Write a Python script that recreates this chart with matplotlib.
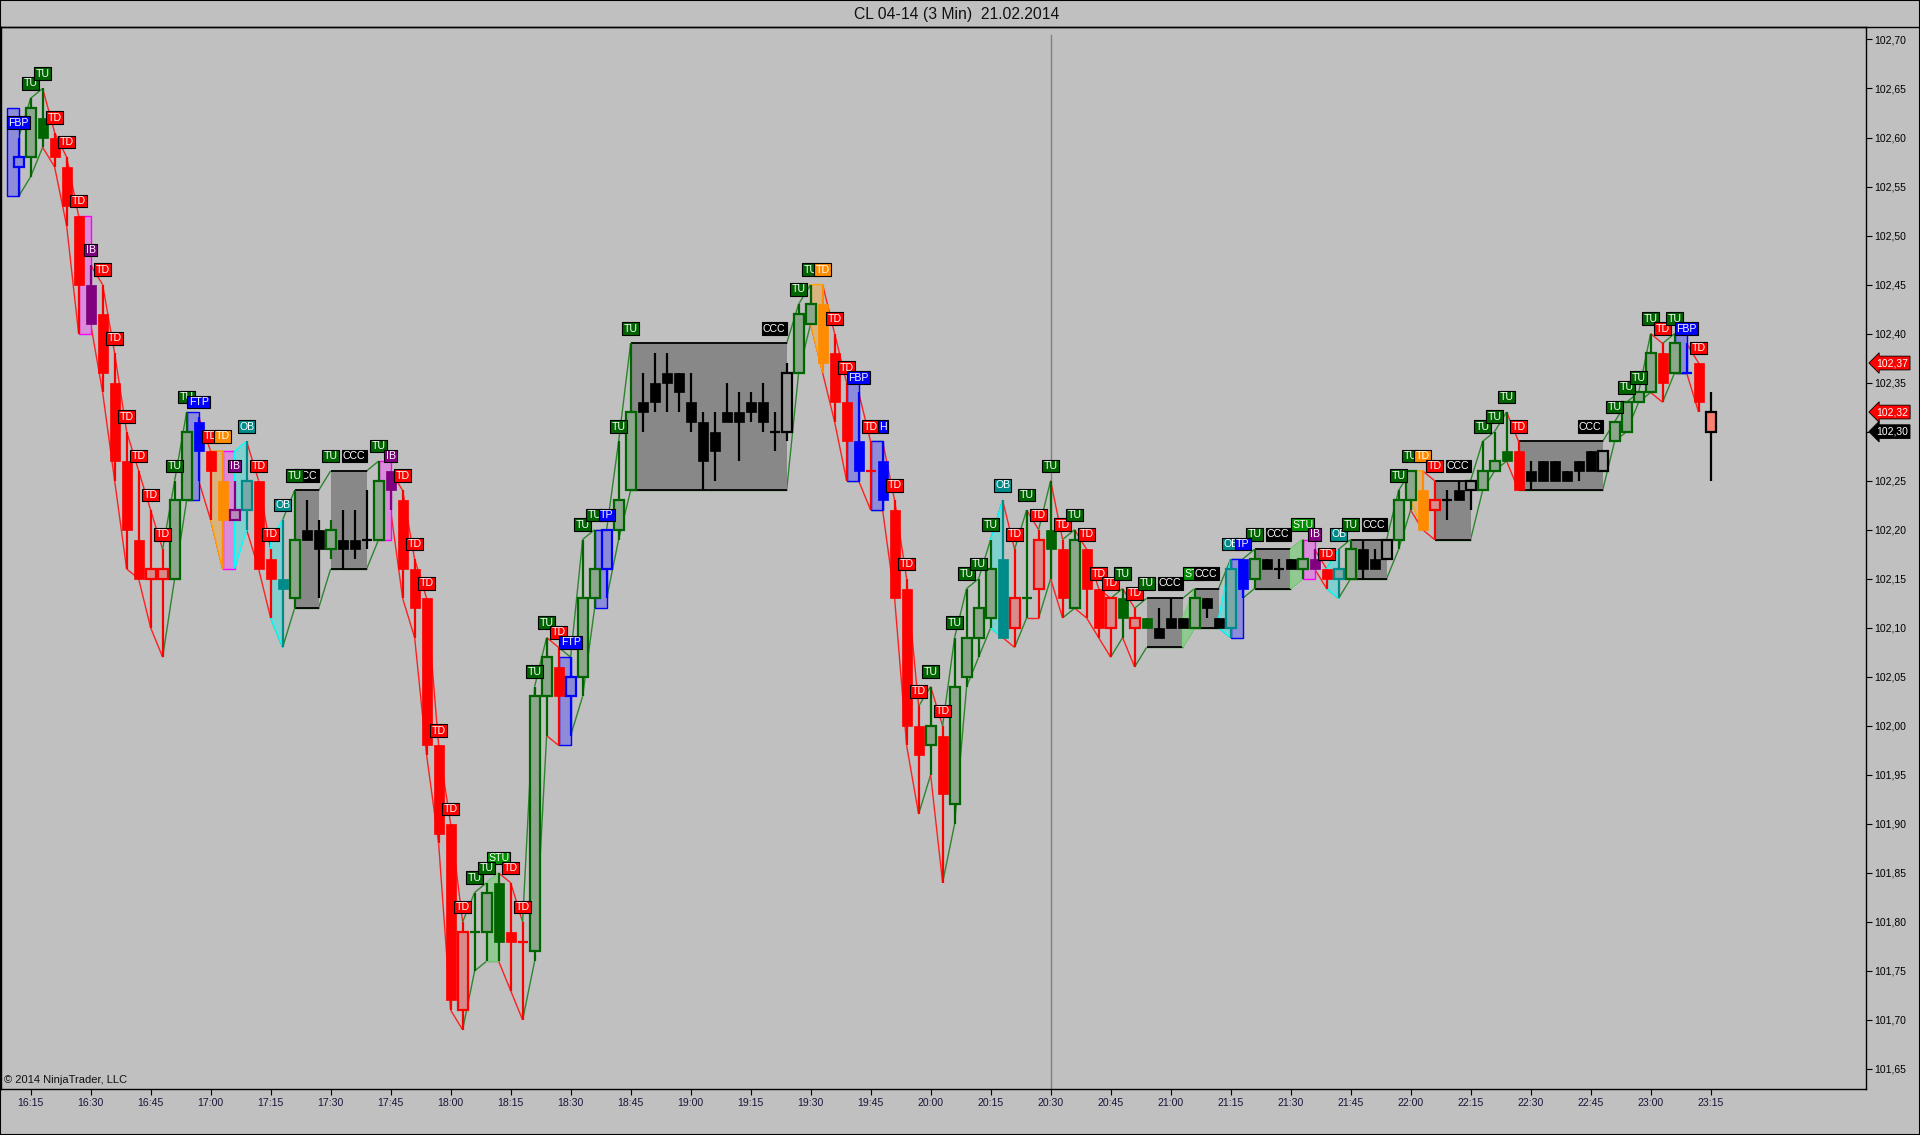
import numpy as np
import matplotlib
matplotlib.use("Agg")
import matplotlib.pyplot as plt
import matplotlib.transforms as mtrans
from matplotlib.patches import Rectangle, Polygon
from matplotlib.collections import LineCollection
from matplotlib.lines import Line2D

plt.rcParams['font.family'] = ['Liberation Sans', 'DejaVu Sans']

# 3 minute bars, index 0 = 16:15, last bar (140) = 23:15
bars = np.arange(-1, 141)

kinds = ['bh',
    'up', 'gd', 'dn', 'dn', 'dn', 'pu', 'dn', 'dn', 'dn', 'dn',
    'lr', 'lr', 'up', 'up', 'bl', 'dn', 'or', 'ph', 'th', 'dn',
    'dn', 'tf', 'up', 'bk', 'bk', 'up', 'bk', 'bk', 'kx', 'up',
    'pu', 'dn', 'dn', 'dn', 'dn', 'dn', 'lr', 'gx', 'up', 'gd',
    'dn', 'rx', 'up', 'up', 'dn', 'bh', 'up', 'up', 'bh', 'up',
    'up', 'bk', 'bk', 'bk', 'bk', 'bk', 'bk', 'bk', 'bk', 'bk',
    'bk', 'bk', 'kx', 'bx', 'up', 'up', 'or', 'dn', 'dn', 'bl',
    'rx', 'bl', 'dn', 'dn', 'dn', 'up', 'dn', 'up', 'up', 'up',
    'up', 'tf', 'lr', 'gx', 'lr', 'gd', 'dn', 'up', 'dn', 'dn',
    'lr', 'gd', 'lr', 'gd', 'bk', 'bk', 'bk', 'up', 'bk', 'bk',
    'th', 'bl', 'up', 'bk', 'kx', 'bk', 'up', 'pu', 'dn', 'th',
    'up', 'bk', 'bk', 'bx', 'up', 'up', 'or', 'lr', 'kx', 'bk',
    'bx', 'up', 'up', 'gd', 'dn', 'bk', 'bk', 'bk', 'bk', 'bk',
    'bk', 'bx', 'up', 'up', 'up', 'up', 'dn', 'up', 'bc', 'dn',
    'sal']

opens = [102.57,
    102.58, 102.62, 102.60, 102.57, 102.52, 102.45, 102.42, 102.35, 102.27, 102.19,
    102.15, 102.15, 102.15, 102.23, 102.31, 102.28, 102.25, 102.21, 102.22, 102.25,
    102.17, 102.15, 102.13, 102.20, 102.20, 102.18, 102.19, 102.19, 102.19, 102.19,
    102.26, 102.23, 102.16, 102.13, 101.98, 101.90, 101.71, 101.79, 101.79, 101.84,
    101.79, 101.78, 101.77, 102.03, 102.06, 102.03, 102.05, 102.13, 102.16, 102.20,
    102.24, 102.33, 102.35, 102.36, 102.36, 102.33, 102.31, 102.30, 102.32, 102.32,
    102.33, 102.33, 102.30, 102.30, 102.36, 102.41, 102.43, 102.38, 102.33, 102.29,
    102.26, 102.27, 102.22, 102.14, 102.00, 101.98, 101.99, 101.92, 102.05, 102.09,
    102.11, 102.17, 102.10, 102.13, 102.14, 102.20, 102.18, 102.12, 102.18, 102.14,
    102.10, 102.13, 102.10, 102.11, 102.10, 102.11, 102.11, 102.10, 102.13, 102.11,
    102.10, 102.17, 102.15, 102.17, 102.16, 102.17, 102.16, 102.17, 102.16, 102.15,
    102.15, 102.18, 102.17, 102.17, 102.19, 102.23, 102.24, 102.22, 102.23, 102.24,
    102.24, 102.24, 102.26, 102.28, 102.28, 102.26, 102.27, 102.27, 102.26, 102.27,
    102.28, 102.26, 102.29, 102.30, 102.33, 102.34, 102.38, 102.36, 102.36, 102.37,
    102.30]

highs = [102.60,
    102.64, 102.65, 102.605, 102.58, 102.52, 102.47, 102.45, 102.38, 102.30, 102.26,
    102.22, 102.18, 102.25, 102.32, 102.315, 102.28, 102.28, 102.25, 102.29, 102.25,
    102.18, 102.21, 102.24, 102.23, 102.21, 102.21, 102.22, 102.22, 102.24, 102.27,
    102.26, 102.24, 102.17, 102.13, 101.98, 101.90, 101.80, 101.83, 101.84, 101.85,
    101.84, 101.80, 102.04, 102.09, 102.08, 102.07, 102.19, 102.20, 102.20, 102.29,
    102.39, 102.36, 102.38, 102.38, 102.36, 102.36, 102.32, 102.32, 102.35, 102.34,
    102.34, 102.35, 102.32, 102.37, 102.43, 102.45, 102.45, 102.40, 102.35, 102.34,
    102.29, 102.29, 102.23, 102.15, 102.02, 102.04, 102.00, 102.09, 102.14, 102.15,
    102.19, 102.23, 102.18, 102.22, 102.20, 102.25, 102.19, 102.20, 102.18, 102.14,
    102.13, 102.14, 102.12, 102.11, 102.12, 102.13, 102.11, 102.14, 102.13, 102.11,
    102.17, 102.17, 102.18, 102.17, 102.17, 102.17, 102.19, 102.18, 102.16, 102.18,
    102.19, 102.19, 102.18, 102.19, 102.24, 102.26, 102.26, 102.25, 102.24, 102.25,
    102.25, 102.29, 102.30, 102.32, 102.29, 102.27, 102.27, 102.27, 102.26, 102.27,
    102.28, 102.28, 102.31, 102.33, 102.34, 102.40, 102.39, 102.40, 102.39, 102.37,
    102.34]

lows = [102.54,
    102.56, 102.59, 102.57, 102.51, 102.40, 102.41, 102.34, 102.25, 102.16, 102.15,
    102.10, 102.07, 102.15, 102.23, 102.25, 102.21, 102.16, 102.21, 102.20, 102.16,
    102.11, 102.08, 102.12, 102.19, 102.13, 102.17, 102.16, 102.17, 102.18, 102.19,
    102.22, 102.13, 102.09, 101.97, 101.88, 101.71, 101.69, 101.75, 101.76, 101.76,
    101.73, 101.70, 101.76, 101.99, 101.98, 101.99, 102.03, 102.12, 102.13, 102.19,
    102.24, 102.30, 102.32, 102.32, 102.32, 102.30, 102.24, 102.25, 102.31, 102.27,
    102.31, 102.30, 102.28, 102.29, 102.36, 102.41, 102.36, 102.31, 102.25, 102.25,
    102.22, 102.22, 102.13, 101.98, 101.91, 101.95, 101.84, 101.90, 102.04, 102.07,
    102.10, 102.09, 102.08, 102.11, 102.11, 102.15, 102.11, 102.12, 102.11, 102.09,
    102.07, 102.09, 102.06, 102.10, 102.09, 102.10, 102.10, 102.10, 102.11, 102.10,
    102.09, 102.13, 102.14, 102.16, 102.15, 102.16, 102.15, 102.16, 102.14, 102.13,
    102.15, 102.15, 102.16, 102.17, 102.18, 102.22, 102.20, 102.19, 102.21, 102.23,
    102.22, 102.24, 102.26, 102.27, 102.24, 102.24, 102.25, 102.25, 102.25, 102.25,
    102.26, 102.26, 102.29, 102.30, 102.33, 102.34, 102.33, 102.36, 102.36, 102.32,
    102.25]

closes = [102.58,
    102.63, 102.60, 102.58, 102.53, 102.45, 102.41, 102.36, 102.27, 102.20, 102.15,
    102.16, 102.16, 102.23, 102.30, 102.28, 102.26, 102.21, 102.22, 102.25, 102.16,
    102.15, 102.14, 102.19, 102.19, 102.18, 102.20, 102.18, 102.18, 102.19, 102.25,
    102.24, 102.16, 102.12, 101.98, 101.89, 101.72, 101.79, 101.79, 101.83, 101.78,
    101.78, 101.78, 102.03, 102.07, 102.03, 102.05, 102.13, 102.16, 102.20, 102.23,
    102.32, 102.32, 102.33, 102.35, 102.34, 102.31, 102.27, 102.28, 102.31, 102.31,
    102.32, 102.31, 102.30, 102.36, 102.42, 102.43, 102.37, 102.33, 102.29, 102.26,
    102.26, 102.23, 102.13, 102.00, 101.97, 102.00, 101.93, 102.04, 102.09, 102.12,
    102.16, 102.09, 102.13, 102.13, 102.19, 102.18, 102.13, 102.19, 102.14, 102.10,
    102.13, 102.11, 102.11, 102.10, 102.09, 102.10, 102.10, 102.13, 102.12, 102.10,
    102.16, 102.14, 102.17, 102.16, 102.16, 102.16, 102.17, 102.16, 102.15, 102.16,
    102.18, 102.16, 102.16, 102.19, 102.23, 102.26, 102.20, 102.23, 102.23, 102.23,
    102.25, 102.26, 102.27, 102.27, 102.24, 102.25, 102.25, 102.25, 102.25, 102.26,
    102.26, 102.28, 102.31, 102.33, 102.34, 102.38, 102.35, 102.39, 102.36, 102.33,
    102.32]

# congestion boxes (CCC): first bar, last bar, top, bottom
box_start = [22, 25, 50, 93, 97, 102, 110, 117, 124]
box_end = [24, 28, 63, 96, 99, 105, 113, 120, 131]
box_top = [102.24, 102.26, 102.39, 102.13, 102.14, 102.18, 102.19, 102.25, 102.29]
box_bot = [102.12, 102.16, 102.24, 102.08, 102.10, 102.14, 102.15, 102.19, 102.24]

# pattern shading between bar i0 and i0+1
sh_kind = ['blue', 'pink', 'blue', 'orange', 'pink', 'cyan', 'cyan', 'pink', 'green', 'blue', 'blue', 'orange',
           'blue', 'blue', 'cyan', 'green', 'cyan', 'blue', 'green', 'pink', 'cyan', 'orange', 'blue']
sh_i0 = [-2, 4, 13, 15, 16, 17, 20, 29, 38, 44, 47, 65, 68, 70, 80, 96, 99, 100, 105, 106, 108, 115, 137]
sh_top0 = [102.63, 102.52, 102.32, 102.28, 102.28, 102.28, 102.19, 102.27, 101.84, 102.07, 102.20, 102.45,
           102.35, 102.29, 102.19, 102.11, 102.11, 102.17, 102.18, 102.19, 102.16, 102.26, 102.40]
sh_bot0 = [102.54, 102.40, 102.23, 102.21, 102.16, 102.16, 102.11, 102.19, 101.76, 101.98, 102.12, 102.41,
           102.25, 102.22, 102.10, 102.08, 102.10, 102.09, 102.14, 102.15, 102.14, 102.23, 102.36]
sh_top1 = [102.63, 102.52, 102.32, 102.28, 102.28, 102.29, 102.21, 102.27, 101.85, 102.07, 102.20, 102.45,
           102.35, 102.29, 102.23, 102.14, 102.17, 102.17, 102.19, 102.19, 102.18, 102.26, 102.40]
sh_bot1 = [102.54, 102.40, 102.23, 102.16, 102.16, 102.20, 102.08, 102.19, 101.76, 101.98, 102.12, 102.36,
           102.25, 102.22, 102.09, 102.10, 102.09, 102.09, 102.15, 102.15, 102.13, 102.20, 102.36]

# signal labels above bars
labels = {
    -1: 'FBP', 0: 'TU', 1: 'TU', 2: 'TD', 3: 'TD', 4: 'TD', 5: 'IB', 6: 'TD', 7: 'TD', 8: 'TD', 9: 'TD',
    10: 'TD', 11: 'TD', 12: 'TU', 13: 'TU', 14: 'FTP', 15: 'TD', 16: 'TD', 17: 'IB', 18: 'OB', 19: 'TD',
    20: 'TD', 21: 'OB', 22: 'TU', 25: 'TU', 29: 'TU', 30: 'IB', 31: 'TD', 32: 'TD', 33: 'TD', 34: 'TD',
    35: 'TD', 36: 'TD', 37: 'TU', 38: 'TU', 39: 'STU', 40: 'TD', 41: 'TD', 42: 'TU', 43: 'TU', 44: 'TD',
    45: 'FTP', 46: 'TU', 47: 'TU', 48: 'TP', 49: 'TU', 50: 'TU', 64: 'TU', 65: 'TU', 66: 'TD', 67: 'TD',
    68: 'TD', 69: 'FBP', 70: 'TD', 71: 'H', 72: 'TD', 73: 'TD', 74: 'TD', 75: 'TU', 76: 'TD', 77: 'TU',
    78: 'TU', 79: 'TU', 80: 'TU', 81: 'OB', 82: 'TD', 83: 'TU', 84: 'TD', 85: 'TU', 86: 'TD', 87: 'TU',
    88: 'TD', 89: 'TD', 90: 'TD', 91: 'TU', 92: 'TD', 93: 'TU', 97: 'STU', 100: 'OB', 101: 'TP', 102: 'TU',
    106: 'STU', 107: 'IB', 108: 'TD', 109: 'OB', 110: 'TU', 114: 'TU', 115: 'TU', 116: 'TD', 117: 'TD',
    121: 'TU', 122: 'TU', 123: 'TU', 124: 'TD', 132: 'TU', 133: 'TU', 134: 'TU', 135: 'TU', 136: 'TD',
    137: 'TU', 138: 'FBP', 139: 'TD'}
orange_td = [16, 66, 116]

time_labels = ['16:15', '16:30', '16:45', '17:00', '17:15', '17:30', '17:45', '18:00', '18:15', '18:30',
               '18:45', '19:00', '19:15', '19:30', '19:45', '20:00', '20:15', '20:30', '20:45', '21:00',
               '21:15', '21:30', '21:45', '22:00', '22:15', '22:30', '22:45', '23:00', '23:15']
price_ticks = [101.65, 101.70, 101.75, 101.80, 101.85, 101.90, 101.95, 102.00, 102.05, 102.10, 102.15,
               102.20, 102.25, 102.30, 102.35, 102.40, 102.45, 102.50, 102.55, 102.60, 102.65, 102.70]
tag_prices = [102.37, 102.32, 102.30]
tag_colors = ['#ff0000', '#ff0000', '#000000']

# colours
candle_style = {
    'up': ('#8ca78c', '#006400'), 'gd': ('#006400', '#006400'), 'gx': (None, '#006400'),
    'dn': ('#ff0000', '#ff0000'), 'lr': ('#d98a8a', '#ff0000'), 'rx': (None, '#ff0000'),
    'bh': ('#8a8ad6', '#0000ff'), 'bl': ('#0000ff', '#0000ff'), 'bc': (None, '#0000ff'),
    'pu': ('#800080', '#800080'), 'ph': ('#b78bb7', '#800080'), 'or': ('#ff8c00', '#ff8c00'),
    'tf': ('#008b8b', '#008b8b'), 'th': ('#7aa9a9', '#008b8b'), 'bk': ('#000000', '#000000'),
    'bx': ('#9a9a9a', '#000000'), 'kx': (None, '#000000'), 'sal': ('#fa8072', '#000000'),
}
hollow = {'up', 'lr', 'bh', 'ph', 'th', 'bx', 'sal'}
red_side = {'dn', 'lr', 'rx', 'or', 'sal', 'pu', 'ph'}
sh_fc = {'blue': '#8c8cd9', 'pink': '#d98cd9', 'orange': '#d9b380', 'cyan': '#80d0d0', 'green': '#92c892'}
sh_ec = {'blue': '#0000ff', 'pink': '#ff00ff', 'orange': '#ffa500', 'cyan': '#00ffff', 'green': '#80d080'}
lab_bg = {'TU': '#006400', 'TD': '#ff0000', 'IB': '#800080', 'OB': '#008b8b', 'STU': '#009000',
          'FBP': '#0000ff', 'FTP': '#0000ff', 'TP': '#0000ff', 'H': '#0000ff', 'CCC': '#000000'}
# stacking of overlapping labels: STU under CCC under TU/TD under the pattern tags
lab_layer = {'STU': 10, 'CCC': 11, 'TU': 12, 'TD': 12, 'IB': 12, 'OB': 12,
             'FBP': 13, 'FTP': 13, 'TP': 13, 'H': 13}
BG = '#c0c0c0'

W, H = 1920, 1135
fig = plt.figure(figsize=(W / 100, H / 100), dpi=100, facecolor=BG)
ax = fig.add_axes([1 / W, 1 - 1089 / H, 1865 / W, 1062 / H])
ax.set_facecolor(BG)
ax.set_xlim(-2.47, 152.95)
ax.set_ylim(101.6296, 102.7127)

# the high / low envelope uses the box edges inside congestion boxes
top_ln = np.array(highs, dtype=float)
bot_ln = np.array(lows, dtype=float)
for s, e, t, b in zip(box_start, box_end, box_top, box_bot):
    top_ln[s + 1:e + 2] = t
    bot_ln[s + 1:e + 2] = b

segs, cols = [], []
for k in range(len(bars) - 2):
    c = '#ff2020' if kinds[k + 1] in red_side else '#2e842e'
    segs.append([(bars[k], top_ln[k]), (bars[k + 1], top_ln[k + 1])])
    segs.append([(bars[k], bot_ln[k]), (bars[k + 1], bot_ln[k + 1])])
    cols += [c, c]
ax.add_collection(LineCollection(segs, colors=cols, linewidths=1.0, zorder=1))

# session marker
ax.plot([85, 85], [101.6296, 102.705], color='#808080', lw=1, zorder=0.8)

for s, e, t, b in zip(box_start, box_end, box_top, box_bot):
    ax.add_patch(Rectangle((s, b), e - s, t - b, fc='#888888', ec='none', zorder=1.5))
    ax.hlines([t, b], s, e, colors='black', lw=1.3, zorder=1.6)

for kd, i0, t0, b0, t1, b1 in zip(sh_kind, sh_i0, sh_top0, sh_bot0, sh_top1, sh_bot1):
    ax.add_patch(Polygon([(i0, t0), (i0 + 1, t1), (i0 + 1, b1), (i0, b0)], closed=True,
                         fc=sh_fc[kd], ec=sh_ec[kd], lw=1.0, zorder=2))

bw = 0.82
for xi, kd, o, h, l, c in zip(bars, kinds, opens, highs, lows, closes):
    fc, ec = candle_style[kd]
    ax.vlines(xi, l, h, color=ec, lw=1.6, zorder=3)
    if fc is None:
        ax.hlines(o, xi - bw / 2, xi + bw / 2, color=ec, lw=1.6, zorder=3.1)
        continue
    lo, hgt = min(o, c), max(abs(c - o), 0.004)
    lw = 1.6 if kd in hollow else 0.5
    ax.add_patch(Rectangle((xi - bw / 2, lo), bw, hgt, fc=fc, ec=ec, lw=lw, zorder=3.1))

lab_off = 0.0152
lab_kw = dict(va='center', fontsize=7.6, color='white', clip_on=False)
for n, (i, txt) in enumerate(labels.items()):
    bg = '#ff8c00' if i in orange_td else lab_bg[txt]
    ax.text(i, top_ln[i + 1] + lab_off, txt, ha='center', zorder=lab_layer[txt] + n * 0.001,
            bbox=dict(boxstyle='square,pad=0.12', fc=bg, ec='black', lw=0.8), **lab_kw)
for e, t in zip(box_end, box_top):
    ax.text(e - 0.1, t + lab_off, 'CCC', ha='right', zorder=lab_layer['CCC'],
            bbox=dict(boxstyle='square,pad=0.12', fc=lab_bg['CCC'], ec='black', lw=0.8), **lab_kw)

# axes, ticks
for sp in ax.spines.values():
    sp.set_color('black')
    sp.set_linewidth(1.0)
ax.yaxis.tick_right()
ax.set_yticks(price_ticks)
ax.set_yticklabels([f'{p:.2f}'.replace('.', ',') for p in price_ticks])
ax.tick_params(axis='y', direction='out', length=4.5, width=0.8, labelsize=7.5, pad=1.5, colors='black')
ax.set_xticks(np.arange(0, 141, 5))
ax.set_xticklabels(time_labels)
ax.tick_params(axis='x', direction='out', length=4.5, width=0.8, labelsize=7.6, pad=2,
               labelcolor='#1c1438', color='black')

trans = mtrans.blended_transform_factory(ax.transAxes, ax.transData)
for p, c in zip(tag_prices, tag_colors):
    ax.text(1.0055, p, f'{p:.2f}'.replace('.', ','), transform=trans, ha='left', va='center',
            fontsize=7.5, color='white', zorder=20, clip_on=False,
            bbox=dict(boxstyle='larrow,pad=0.18', fc=c, ec='black', lw=0.6))

ax.text(0.0015, 0.004, '\u00a9 2014 NinjaTrader, LLC', transform=ax.transAxes, fontsize=8,
        ha='left', va='bottom', color='#101010', zorder=20)

fig.text(957 / W, 1 - 14 / H, 'CL 04-14 (3 Min)  21.02.2014', ha='center', va='center',
         fontsize=11.3, color='#101010')
fig.add_artist(Line2D([0, 1], [1 - 27 / H, 1 - 27 / H], transform=fig.transFigure, color='black', lw=1))
fig.add_artist(Rectangle((0, 0), 1, 1, transform=fig.transFigure, fill=False, ec='black', lw=1.5))

fig.savefig('out.png', dpi=100, facecolor=BG)
